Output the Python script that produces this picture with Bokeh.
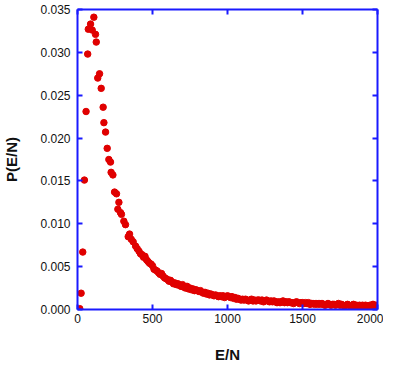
from bokeh.plotting import figure
from bokeh.models import LinearAxis, FixedTicker, NumeralTickFormatter, Range1d
from bokeh.embed import file_html
from bokeh.resources import INLINE

# ---- data ----
e_rise = [15, 24, 35, 46, 57, 68, 72, 87, 98, 109, 120, 125, 135, 147, 158, 171, 176, 187,
          198, 209, 220, 224, 236, 247, 260, 269, 276, 287, 293, 309, 320, 338, 347, 358,
          371, 387, 398]
p_rise = [0.0001, 0.0019, 0.0067, 0.0151, 0.0231, 0.0298, 0.0327, 0.0333, 0.0326, 0.0341,
          0.0321, 0.0312, 0.0270, 0.0275, 0.0258, 0.0236, 0.0218, 0.0207, 0.0188, 0.0175,
          0.0172, 0.0160, 0.0157, 0.0137, 0.0135, 0.0117, 0.0125, 0.0113, 0.0111, 0.0103,
          0.0099, 0.0085, 0.0088, 0.0082, 0.0079, 0.0074, 0.0071]

e_tail = list(range(410, 2001, 10))
p_tail = [
    0.0068, 0.0065, 0.0064, 0.0061, 0.0062, 0.0058, 0.0056, 0.0054, 0.0053, 0.0051,
    0.0047, 0.0046, 0.0045, 0.0043, 0.0041, 0.0042, 0.0039, 0.0037, 0.0036, 0.0035,
    0.0033, 0.0034, 0.0032, 0.0030, 0.0031, 0.0029, 0.0030, 0.0028, 0.0027, 0.0029,
    0.0026, 0.0025, 0.0027, 0.0024, 0.0025, 0.0023, 0.0024, 0.0022, 0.0023, 0.0022,
    0.0021, 0.0022, 0.0020, 0.0019, 0.0020, 0.0018, 0.0019, 0.0017, 0.0018, 0.0017,
    0.0016, 0.0017, 0.0016, 0.0015, 0.0016, 0.0015, 0.0016, 0.0014, 0.0015, 0.0016,
    0.0015, 0.0014, 0.0015, 0.0013, 0.0014, 0.0012, 0.0013, 0.0012, 0.0011, 0.0012,
    0.0011, 0.0012, 0.0011, 0.0010, 0.0011, 0.0012, 0.0010, 0.0011, 0.0010, 0.0011,
    0.0011, 0.0010, 0.0011, 0.0009, 0.0010, 0.0011, 0.0010, 0.0009, 0.0010, 0.0009,
    0.0010, 0.0009, 0.0008, 0.0009, 0.0008, 0.0009, 0.0010, 0.0008, 0.0009, 0.0008,
    0.0009, 0.0008, 0.0008, 0.0007, 0.0008, 0.0009, 0.0008, 0.0007, 0.0008, 0.0008,
    0.0007, 0.0008, 0.0007, 0.0008, 0.0006, 0.0007, 0.0007, 0.0006, 0.0007, 0.0006,
    0.0007, 0.0006, 0.0007, 0.0006, 0.0005, 0.0006, 0.0007, 0.0006, 0.0005, 0.0006,
    0.0006, 0.0005, 0.0006, 0.0007, 0.0005, 0.0006, 0.0005, 0.0004, 0.0005, 0.0006,
    0.0005, 0.0004, 0.0005, 0.0006, 0.0004, 0.0005, 0.0004, 0.0005, 0.0004, 0.0005,
    0.0004, 0.0005, 0.0004, 0.0003, 0.0005, 0.0004, 0.0006, 0.0004, 0.0005, 0.0004,
]

x_ticks = [0, 500, 1000, 1500, 2000]
y_ticks = [0.0, 0.005, 0.010, 0.015, 0.020, 0.025, 0.030, 0.035]

e_all = e_rise + e_tail
p_all = p_rise + p_tail

AXIS_COLOR = "#1a1aff"
FONT = "Liberation Sans"

p = figure(frame_width=300, frame_height=300, output_backend="svg", toolbar_location=None,
           x_range=Range1d(0, 2000), y_range=Range1d(0, 0.035),
           x_axis_label="E/N", y_axis_label="P(E/N)",
           min_border_left=72, min_border_right=6, min_border_top=9, min_border_bottom=52)
p.outline_line_color = None
p.xgrid.visible = False
p.ygrid.visible = False
p.background_fill_color = "white"
p.border_fill_color = "white"

p.scatter(e_all, p_all, size=6.5, fill_color="#e00000", line_color="#e00000")

def style(ax, ticks, show_labels):
    ax.ticker = FixedTicker(ticks=ticks)
    ax.axis_line_color = AXIS_COLOR
    ax.axis_line_width = 2
    ax.major_tick_line_color = AXIS_COLOR
    ax.major_tick_line_width = 2
    ax.major_tick_in = 5
    ax.major_tick_out = 0
    ax.minor_tick_line_color = None
    ax.major_label_text_font = FONT
    ax.major_label_text_font_size = "12px"
    ax.major_label_text_color = "#111111" if show_labels else None
    ax.axis_label_text_font = FONT
    ax.axis_label_text_font_size = "15px"
    ax.axis_label_text_font_style = "bold"
    ax.axis_label_text_color = "#111111"

xa = p.xaxis[0]
ya = p.yaxis[0]
style(xa, x_ticks, True)
style(ya, y_ticks, True)
ya.formatter = NumeralTickFormatter(format="0.000")
xa.major_label_standoff = 4
xa.axis_label_standoff = 20
ya.major_label_standoff = 7
ya.axis_label_standoff = 17

top = LinearAxis()
style(top, x_ticks, False)
top.major_label_text_font_size = "0px"
top.major_label_standoff = 0
p.add_layout(top, "above")
right = LinearAxis()
style(right, y_ticks, False)
right.major_label_text_font_size = "0px"
right.major_label_standoff = 0
p.add_layout(right, "right")

open("out.html", "w").write(file_html(p, INLINE))
